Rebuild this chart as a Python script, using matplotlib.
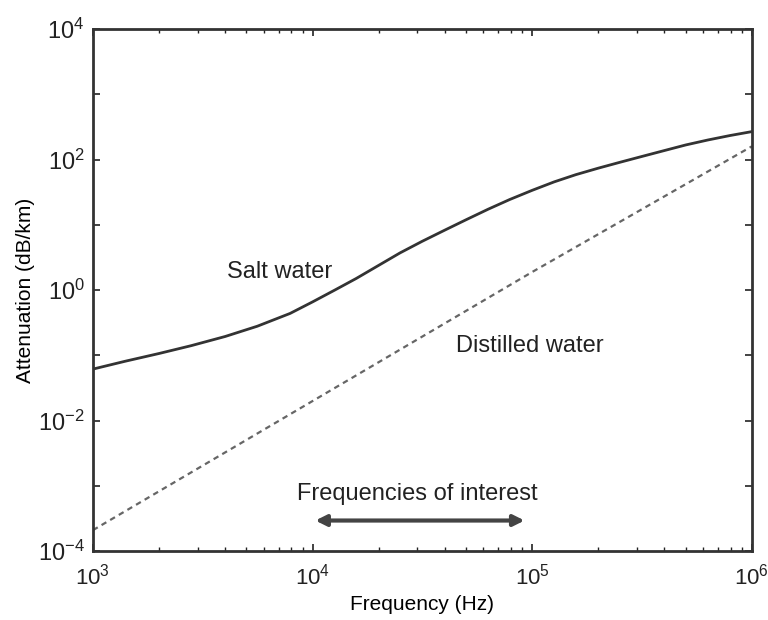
import matplotlib
matplotlib.use("Agg")
import matplotlib.pyplot as plt
from matplotlib.ticker import LogLocator, NullFormatter, NullLocator

plt.rcParams['font.family'] = ['Liberation Sans', 'DejaVu Sans']
plt.rcParams['mathtext.fontset'] = 'custom'
plt.rcParams['mathtext.rm'] = 'Liberation Sans'
plt.rcParams['mathtext.it'] = 'Liberation Sans:italic'
plt.rcParams['mathtext.bf'] = 'Liberation Sans:bold'

# Salt water attenuation
salt_freq = [1000, 1400, 2000, 2800, 4000, 5600, 7900, 10000, 12600, 15800, 20000,
             25000, 31600, 40000, 50000, 63000, 79000, 100000, 126000, 158000,
             200000, 251000, 316000, 400000, 500000, 630000, 794000, 1000000]
salt_att = [0.0617, 0.0813, 0.107, 0.141, 0.195, 0.28, 0.44, 0.661, 1.00, 1.51, 2.40,
            3.72, 5.62, 8.32, 12.0, 17.4, 24.5, 33.9, 45.7, 58.9,
            74.1, 91.2, 112, 138, 168, 200, 234, 269]

# Distilled water attenuation
dist_freq = [1e3, 1e4, 1e5, 1e6]
dist_att = [2.1e-4, 2.0e-2, 1.9, 160]

arrow_range = [1e4, 9.5e4]

yticks = [1e-4, 1e-3, 1e-2, 1e-1, 1, 10, 1e2, 1e3, 1e4]
yticklabels = ['$10^{-4}$', '', '$10^{-2}$', '', '$10^{0}$', '', '$10^{2}$', '', '$10^{4}$']
xticks = [1e3, 1e4, 1e5, 1e6]
xticklabels = ['$10^{3}$', '$10^{4}$', '$10^{5}$', '$10^{6}$']

fig = plt.figure(figsize=(7.68, 6.2), dpi=100)
ax = fig.add_axes([0.121, 0.111, 0.858, 0.842])

ax.plot(salt_freq, salt_att, color='#333333', lw=2.0)
ax.plot(dist_freq, dist_att, color='#666666', lw=1.6, linestyle=(0, (2.5, 2)))

ax.set_xscale('log')
ax.set_yscale('log')
ax.set_xlim(1e3, 1e6)
ax.set_ylim(1e-4, 1e4)

ax.set_yticks(yticks)
ax.set_yticklabels(yticklabels)
ax.yaxis.set_minor_locator(NullLocator())
ax.set_xticks(xticks)
ax.set_xticklabels(xticklabels)
ax.xaxis.set_minor_locator(LogLocator(base=10, subs=range(2, 10)))
ax.xaxis.set_minor_formatter(NullFormatter())

ax.tick_params(which='both', direction='in', top=True, right=True, colors='#222222')
ax.tick_params(axis='x', which='major', pad=9, labelsize=16)
ax.tick_params(axis='y', which='major', pad=6, labelsize=17)
ax.tick_params(which='major', length=5, width=1.2)
ax.tick_params(which='minor', length=3, width=1.0)
for s in ax.spines.values():
    s.set_linewidth(2.0)
    s.set_color('#333333')

ax.set_xlabel('Frequency (Hz)', fontsize=15, labelpad=4)
ax.set_ylabel('Attenuation (dB/km)', fontsize=15, labelpad=2)

ax.text(7.1e3, 1.9, 'Salt water', fontsize=17, ha='center', va='center', color='#222222')
ax.text(9.8e4, 0.14, 'Distilled water', fontsize=17, ha='center', va='center', color='#222222')
ax.text(3.0e4, 7.4e-4, 'Frequencies of interest', fontsize=17, ha='center', va='center', color='#222222')
ax.annotate('', xy=(arrow_range[1], 2.95e-4), xytext=(arrow_range[0], 2.95e-4),
            arrowprops=dict(arrowstyle='<|-|>', color='#444444', lw=3, mutation_scale=16))

fig.savefig('out.png', dpi=100)
